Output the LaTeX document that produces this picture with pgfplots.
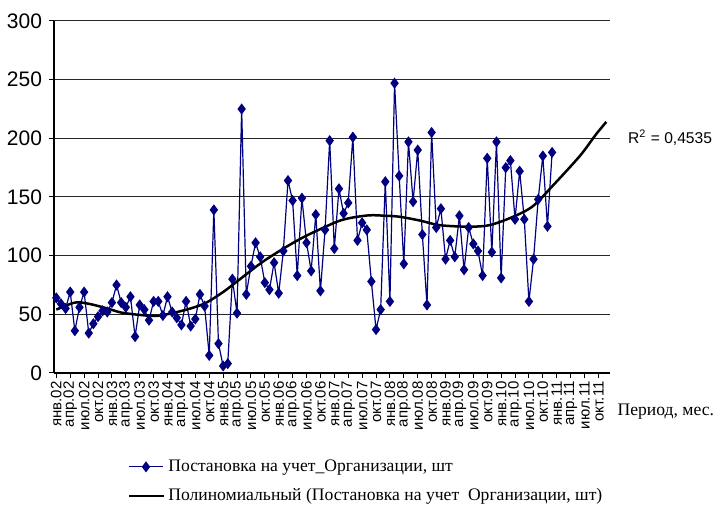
\documentclass[border=0pt]{standalone}
\usepackage{pgfplots}
\pgfplotsset{compat=1.18}
\usepackage{fontspec}
\setmainfont{Liberation Serif}
\newfontfamily\arial{Liberation Sans}
\definecolor{navyser}{RGB}{0,0,128}

% Постановка на учет, помесячно с янв.02 (индекс 0)
\pgfplotstableread{
i v
0 64
1 59
2 55
3 69
4 36
5 56
6 69
7 34
8 42
9 48
10 53
11 52
12 60
13 75
14 60
15 56
16 65
17 31
18 58
19 54
20 45
21 61
22 61
23 49
24 65
25 52
26 47
27 41
28 61
29 40
30 46
31 67
32 57
33 15
34 139
35 25
36 6
37 8
38 80
39 51
40 225
41 67
42 91
43 111
44 99
45 77
46 71
47 94
48 68
49 104
50 164
51 147
52 83
53 149
54 111
55 87
56 135
57 70
58 122
59 198
60 106
61 157
62 136
63 145
64 201
65 113
66 128
67 122
68 78
69 37
70 54
71 163
72 61
73 247
74 168
75 93
76 197
77 146
78 190
79 118
80 58
81 205
82 124
83 140
84 97
85 113
86 99
87 134
88 88
89 124
90 110
91 104
92 83
93 183
94 103
95 197
96 81
97 175
98 181
99 131
100 172
101 131
102 61
103 97
104 148
105 185
106 125
107 188
}\datatable

% trend line
\pgfplotstableread{
i v
0 54
4 60
7 59
11 55
14 51.5
18 49.5
21.6 48.6
25 51
29 55
32.4 60
36 69
39 78
45 96
52.5 114
60 128
63.3 132
67.6 134.4
71 134
74 133.2
78.4 130
82.7 126
89 124.7
93.5 126
98.5 133
102.8 142
107 159
113 185
116.4 203
118.7 214
}\trendtable

\begin{document}
\begin{tikzpicture}
\path[use as bounding box] (0,0) rectangle (358pt,253pt);
\begin{axis}[
  at={(27pt,66.5pt)}, anchor=south west,
  scale only axis, width=278pt, height=176pt,
  xmin=-0.5, xmax=119.5, ymin=0, ymax=300,
  axis lines*=left,
  axis line style={black, line width=0.6pt},
  ytick={0,50,...,300},
  ymajorgrids, major grid style={black!85, line width=0.5pt},
  xtick={0,3,...,117},
  xticklabels={янв.02,апр.02,июл.02,окт.02,янв.03,апр.03,июл.03,окт.03,янв.04,апр.04,июл.04,окт.04,янв.05,апр.05,июл.05,окт.05,янв.06,апр.06,июл.06,окт.06,янв.07,апр.07,июл.07,окт.07,янв.08,апр.08,июл.08,окт.08,янв.09,апр.09,июл.09,окт.09,янв.10,апр.10,июл.10,окт.10,янв.11,апр.11,июл.11,окт.11},
  x tick label style={rotate=90, anchor=east, font=\arial\fontsize{7.5}{8}\selectfont, inner sep=1.5pt},
  y tick label style={font=\arial\fontsize{10.5}{12}\selectfont},
  /pgf/number format/assume math mode=true,
  tick align=outside, major tick length=2.5pt,
  tick style={black, line width=0.5pt},
  clip=false,
  legend cell align=left,
  legend style={at={(0.121,-0.222)}, anchor=north west, draw=none, fill=none,
    font=\fontsize{8.8}{10.5}\selectfont, row sep=3pt},
]
\addplot[navyser, line width=0.6pt, mark=diamond*, mark size=2.3pt,
  mark options={fill=navyser, draw=navyser}] table[x=i, y=v] {\datatable};
\addlegendentry{Постановка на учет\_Организации, шт}
\addplot[black, line width=1.25pt, smooth, no marks] table[x=i, y=v] {\trendtable};
\addlegendentry{Полиномиальный (Постановка на учет~ Организации, шт)}
\node[anchor=west, font=\fontsize{8.8}{10}\selectfont, inner sep=0pt] at (rel axis cs:1.013,-0.11) {Период, мес.};
\node[anchor=west, font=\arial\fontsize{7.8}{9}\selectfont, inner sep=0pt] at (rel axis cs:1.032,0.668) {R\textsuperscript{2} = 0,4535};
\end{axis}
\end{tikzpicture}
\end{document}
